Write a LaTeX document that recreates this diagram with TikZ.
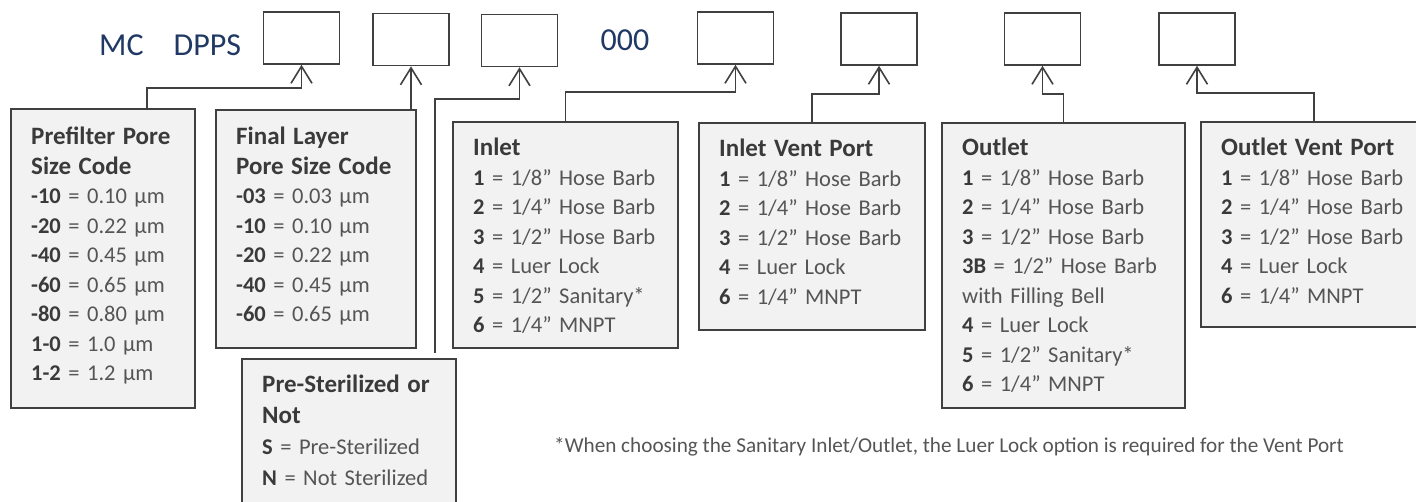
\documentclass[tikz,border=0pt]{standalone}
\usepackage{fontspec}
\setmainfont{Carlito}
\usepackage{tikz}
\usetikzlibrary{calc, arrows.meta}

\definecolor{codeblue}{HTML}{203864}
\definecolor{boxgray}{HTML}{F2F2F2}
\definecolor{linegray}{HTML}{404040}
\definecolor{txtdark}{HTML}{3A3A3A}
\definecolor{txtlight}{HTML}{555555}

\newcommand{\ttl}[1]{{\fontsize{25}{29.5}\selectfont\textcolor{txtdark}{\textbf{#1}}}}
\newcommand{\opt}[2]{\textcolor{txtdark}{\textbf{#1}} = #2}

\begin{document}
\begin{tikzpicture}[x=1pt, y=-1pt]

    \tikzstyle{slot}=[draw=linegray, line width=1.6pt, fill=white, minimum width=76pt, minimum height=52pt, inner sep=0pt];
    \tikzstyle{optbox}=[draw=linegray, line width=1.6pt, fill=boxgray, anchor=north west, inner sep=0pt];
    \tikzstyle{opttext}=[anchor=base west, inner sep=0pt, text width=250pt, align=left, text=txtlight, font=\fontsize{22.5}{29.5}\selectfont];
    \tikzstyle{conn}=[draw=linegray, line width=1.6pt, -{Straight Barb[length=17pt, width=21pt]}];
    \tikzstyle{code}=[text=codeblue, inner sep=0pt, font=\fontsize{32}{38}\selectfont];

    \useasboundingbox (0,0) rectangle (1416,501);

    % part number
    \node[code, anchor=base west] (mc) at (99,55) {MC\hspace{30pt}DPPS};
    \node[code, anchor=base] (zeros) at (625,50) {000};

    \node[slot] (k1) at (301.5,38) {};
    \node[slot] (k2) at (411,39.5) {};
    \node[slot] (k3) at (519.5,40.5) {};
    \node[slot] (k4) at (735.5,38) {};
    \node[slot] (k5) at (879,39) {};
    \node[slot] (k6) at (1042.5,39) {};
    \node[slot] (k7) at (1197,39) {};

    % option boxes
    \node[optbox, minimum width=184pt, minimum height=299pt] (prefilter) at (10,108) {};
    \node[optbox, minimum width=200pt, minimum height=238pt] (final) at (215,109) {};
    \node[optbox, minimum width=214pt, minimum height=170pt] (steril) at (241,358) {};
    \node[optbox, minimum width=225pt, minimum height=226pt] (inlet) at (452,121) {};
    \node[optbox, minimum width=226pt, minimum height=207pt] (inletvent) at (698,122) {};
    \node[optbox, minimum width=243pt, minimum height=285pt] (outlet) at (941,122) {};
    \node[optbox, minimum width=226pt, minimum height=205pt] (outletvent) at (1200,121) {};

    \node[opttext] (prefiltertxt) at ($(prefilter.north west)+(21,36.6)$)
        {\ttl{Prefilter Pore}\\\ttl{Size Code}\\\opt{-10}{0.10 µm}\\\opt{-20}{0.22 µm}\\\opt{-40}{0.45 µm}\\\opt{-60}{0.65 µm}\\\opt{-80}{0.80 µm}\\\opt{1-0}{1.0 µm}\\\opt{1-2}{1.2 µm}};
    \node[opttext] (finaltxt) at ($(final.north west)+(21,35.6)$)
        {\ttl{Final Layer}\\\ttl{Pore Size Code}\\\opt{-03}{0.03 µm}\\\opt{-10}{0.10 µm}\\\opt{-20}{0.22 µm}\\\opt{-40}{0.45 µm}\\\opt{-60}{0.65 µm}};
    \node[opttext, font=\fontsize{22.5}{31}\selectfont] (steriltxt) at ($(steril.north west)+(21,34.6)$)
        {\ttl{Pre-Sterilized or}\\\ttl{Not}\\\opt{S}{Pre-Sterilized}\\\opt{N}{Not Sterilized}};
    \node[opttext] (inlettxt) at ($(inlet.north west)+(21,34.6)$)
        {\ttl{Inlet}\\\opt{1}{1/8” Hose Barb}\\\opt{2}{1/4” Hose Barb}\\\opt{3}{1/2” Hose Barb}\\\opt{4}{Luer Lock}\\\opt{5}{1/2” Sanitary*}\\\opt{6}{1/4” MNPT}};
    \node[opttext] (inletventtxt) at ($(inletvent.north west)+(21,34.6)$)
        {\ttl{Inlet Vent Port}\\\opt{1}{1/8” Hose Barb}\\\opt{2}{1/4” Hose Barb}\\\opt{3}{1/2” Hose Barb}\\\opt{4}{Luer Lock}\\\opt{6}{1/4” MNPT}};
    \node[opttext] (outlettxt) at ($(outlet.north west)+(21,33.6)$)
        {\ttl{Outlet}\\\opt{1}{1/8” Hose Barb}\\\opt{2}{1/4” Hose Barb}\\\opt{3}{1/2” Hose Barb}\\\opt{3B}{1/2” Hose Barb}\\with Filling Bell\\\opt{4}{Luer Lock}\\\opt{5}{1/2” Sanitary*}\\\opt{6}{1/4” MNPT}};
    \node[opttext] (outletventtxt) at ($(outletvent.north west)+(21,34.6)$)
        {\ttl{Outlet Vent Port}\\\opt{1}{1/8” Hose Barb}\\\opt{2}{1/4” Hose Barb}\\\opt{3}{1/2” Hose Barb}\\\opt{4}{Luer Lock}\\\opt{6}{1/4” MNPT}};

    \node[anchor=base west, inner sep=0pt, text=txtlight, font=\fontsize{21.2}{25}\selectfont] (note) at (554,452)
        {*When choosing the Sanitary Inlet/Outlet, the Luer Lock option is required for the Vent Port};

    % connectors
    \draw[conn] ([xshift=44pt]prefilter.north) -- ++(0,-20) -| (k1.south);
    \draw[conn] (final.north -| k2.south) -- (k2.south);
    \draw[conn, shorten <=5pt] ([xshift=86pt]steril.north) -- ++(0,-259) -| (k3.south);
    \draw[conn] (inlet.north) -- ++(0,-29) -| (k4.south);
    \draw[conn] (inletvent.north) -- ++(0,-28) -| (k5.south);
    \draw[conn] (outlet.north) -- ++(0,-28) -| (k6.south);
    \draw[conn] (outletvent.north) -- ++(0,-28) -| (k7.south);

\end{tikzpicture}
\end{document}
